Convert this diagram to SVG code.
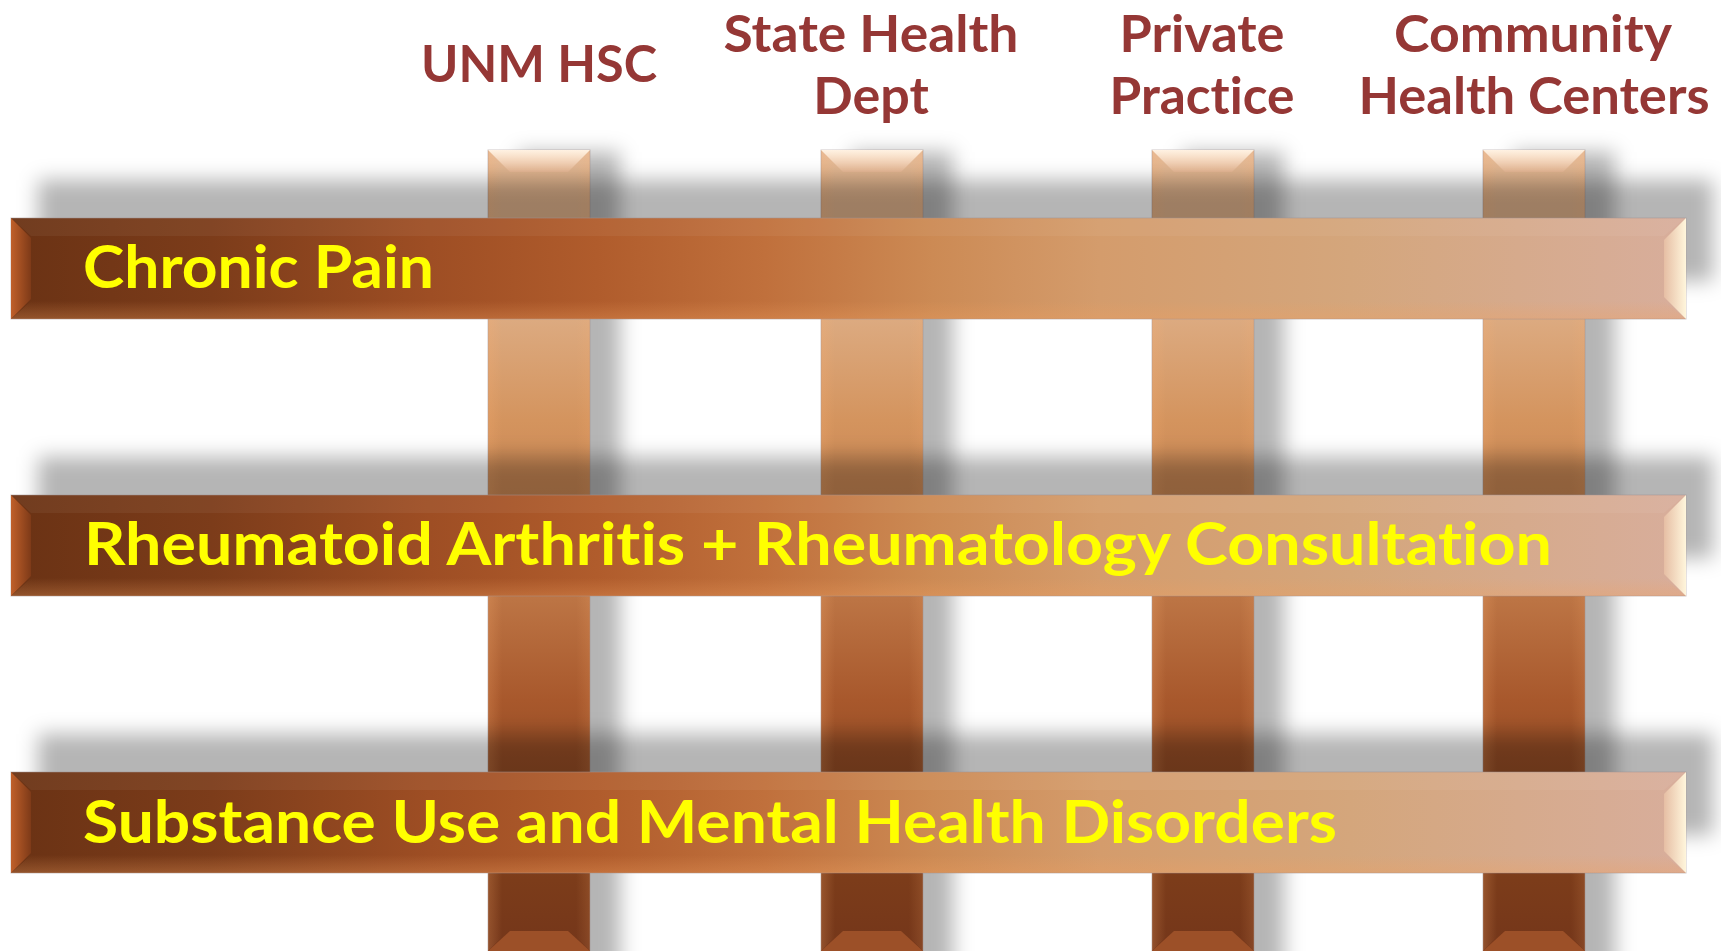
<svg xmlns="http://www.w3.org/2000/svg" width="1721" height="951" viewBox="0 0 1721 951">
<style>
.hdr{font-family:Lato,"Open Sans","Liberation Sans",sans-serif;font-weight:700;font-size:52px;fill:#953735;text-anchor:middle;font-variant-ligatures:none}
.lbl{font-family:Lato,"Open Sans","Liberation Sans",sans-serif;font-weight:700;font-size:59px;fill:#ffff00;font-variant-ligatures:none}
.sh{fill:#000;fill-opacity:0.29}
.edge{stroke:#a09090;stroke-opacity:0.5;stroke-width:1}
</style>
<defs>
<filter id="blur" filterUnits="userSpaceOnUse" x="0" y="0" width="1721" height="951">
<feGaussianBlur stdDeviation="10"/>
</filter>
<linearGradient id="vgrad" gradientUnits="userSpaceOnUse" x1="0" y1="150" x2="0" y2="951">
<stop offset="0" stop-color="#e6bc9a"/>
<stop offset="0.031" stop-color="#e0b48e"/>
<stop offset="0.212" stop-color="#dcaa80"/>
<stop offset="0.337" stop-color="#d4945e"/>
<stop offset="0.562" stop-color="#bc7444"/>
<stop offset="0.687" stop-color="#a8582c"/>
<stop offset="0.911" stop-color="#7c3c1a"/>
<stop offset="1" stop-color="#74361a"/>
</linearGradient>
<linearGradient id="hgrad" gradientUnits="userSpaceOnUse" x1="11" y1="0" x2="1686" y2="0">
<stop offset="0" stop-color="#6a3214"/>
<stop offset="0.12" stop-color="#7c3c1a"/>
<stop offset="0.25" stop-color="#9e4e24"/>
<stop offset="0.35" stop-color="#b05c2c"/>
<stop offset="0.45" stop-color="#c0703c"/>
<stop offset="0.55" stop-color="#cc8a54"/>
<stop offset="0.65" stop-color="#d49c6c"/>
<stop offset="0.8" stop-color="#d4a67c"/>
<stop offset="1" stop-color="#d8ae9c"/>
</linearGradient>
<linearGradient id="vtop" x1="0" y1="0" x2="0" y2="1">
<stop offset="0" stop-color="#fff2e2"/>
<stop offset="1" stop-color="#e8b894"/>
</linearGradient>
<linearGradient id="vside" x1="0" y1="0" x2="1" y2="0">
<stop offset="0" stop-color="#ffb070" stop-opacity="0.22"/>
<stop offset="1" stop-color="#ffb070" stop-opacity="0"/>
</linearGradient>
<linearGradient id="vsideR" x1="1" y1="0" x2="0" y2="0">
<stop offset="0" stop-color="#ffb070" stop-opacity="0.14"/>
<stop offset="1" stop-color="#ffb070" stop-opacity="0"/>
</linearGradient>
<linearGradient id="hleft" x1="0" y1="0" x2="1" y2="0">
<stop offset="0" stop-color="#c0602a"/>
<stop offset="1" stop-color="#7e3a18"/>
</linearGradient>
<linearGradient id="hright" x1="0" y1="0" x2="1" y2="0">
<stop offset="0" stop-color="#e6bea4"/>
<stop offset="1" stop-color="#fff6dc"/>
</linearGradient>
<linearGradient id="hbot" x1="0" y1="0" x2="0" y2="1">
<stop offset="0" stop-color="#f0a060" stop-opacity="0"/>
<stop offset="1" stop-color="#f0a060" stop-opacity="0.3"/>
</linearGradient>
<g id="vbar">
<rect x="0" y="150" width="102" height="802" fill="url(#vgrad)" class="edge"/>
<polygon points="0,150 14,164 14,937 0,951" fill="url(#vside)"/>
<polygon points="102,150 88,164 88,937 102,951" fill="url(#vsideR)"/>
<polygon points="0,150 102,150 80,172 22,172" fill="url(#vtop)"/>
<polygon points="0,951 22,931 80,931 102,951" fill="#9c5028"/>
</g>
<g id="hbar">
<rect x="11" y="0" width="1675" height="101" fill="url(#hgrad)" class="edge"/>
<polygon points="11,0 1686,0 1664,18 31,18" fill="#ffffff" fill-opacity="0.05"/>
<polygon points="11,101 31,83 1664,83 1686,101" fill="url(#hbot)"/>
<polygon points="11,0 31,20 31,81 11,101" fill="url(#hleft)"/>
<polygon points="1686,0 1664,22 1664,79 1686,101" fill="url(#hright)"/>
</g>
</defs>
<rect width="1721" height="951" fill="#ffffff"/>

<g id="headers">
<text class="hdr" x="539" y="82" textLength="236" lengthAdjust="spacingAndGlyphs">UNM HSC</text>
<text class="hdr" x="871" y="52" textLength="295" lengthAdjust="spacingAndGlyphs">State Health</text>
<text class="hdr" x="871" y="114">Dept</text>
<text class="hdr" x="1202" y="52" textLength="165" lengthAdjust="spacingAndGlyphs">Private</text>
<text class="hdr" x="1202" y="114" textLength="185" lengthAdjust="spacingAndGlyphs">Practice</text>
<text class="hdr" x="1533" y="52" textLength="278" lengthAdjust="spacingAndGlyphs">Community</text>
<text class="hdr" x="1534" y="114" textLength="351" lengthAdjust="spacingAndGlyphs">Health Centers</text>
</g>

<g id="vertical-shadows" filter="url(#blur)">
<rect class="sh" x="518" y="152" width="102" height="820"/>
<rect class="sh" x="851" y="152" width="102" height="820"/>
<rect class="sh" x="1182" y="152" width="102" height="820"/>
<rect class="sh" x="1513" y="152" width="102" height="820"/>
</g>

<g id="col-unm"><use href="#vbar" x="488" y="0"/></g>
<g id="col-state"><use href="#vbar" x="821" y="0"/></g>
<g id="col-private"><use href="#vbar" x="1152" y="0"/></g>
<g id="col-chc"><use href="#vbar" x="1483" y="0"/></g>

<g id="horizontal-shadows" filter="url(#blur)">
<rect class="sh" x="38" y="180" width="1675" height="101"/>
<rect class="sh" x="38" y="457" width="1675" height="101"/>
<rect class="sh" x="38" y="734" width="1675" height="101"/>
</g>

<g id="row-chronic-pain">
<use href="#hbar" x="0" y="218"/>
<text class="lbl" x="83" y="288" textLength="351" lengthAdjust="spacingAndGlyphs">Chronic Pain</text>
</g>
<g id="row-rheumatoid">
<use href="#hbar" x="0" y="495"/>
<text class="lbl" x="84" y="565" textLength="1468" lengthAdjust="spacingAndGlyphs">Rheumatoid Arthritis + Rheumatology Consultation</text>
</g>
<g id="row-substance">
<use href="#hbar" x="0" y="772"/>
<text class="lbl" x="83" y="843" textLength="1254" lengthAdjust="spacingAndGlyphs">Substance Use and Mental Health Disorders</text>
</g>
</svg>
